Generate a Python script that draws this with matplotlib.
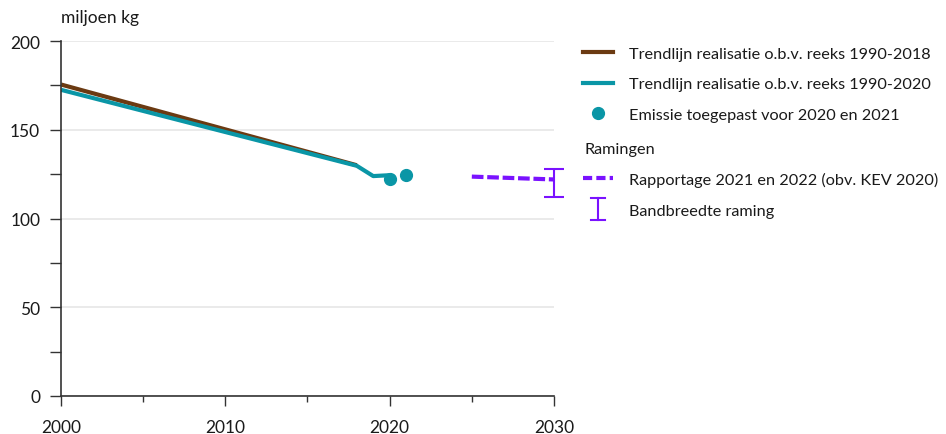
import numpy as np
import matplotlib.pyplot as plt
from matplotlib.lines import Line2D
from matplotlib.legend_handler import HandlerBase

# -------------------------------------------------
# Data
# -------------------------------------------------
jaren_trend_2018 = [2000, 2018]
trend_2018 = [175.5, 130.0]

jaren_trend_2020 = [2000, 2018, 2019, 2020]
trend_2020 = [172.5, 129.7, 123.9, 124.4]

jaren_emissie = [2020, 2021]
emissie = [122.3, 124.5]

jaren_raming = [2025, 2030]
raming = [123.6, 122.0]

jaar_band = [2030]
band_laag = [112.3]
band_hoog = [127.9]

x_ticks = [2000, 2010, 2020, 2030]
y_ticks = [0, 50, 100, 150, 200]

BRUIN = "#6b3a12"
TEAL = "#0a96a6"
PAARS = "#7a12ff"
TEKST = "#1a1a1a"
STREEP = (0, (2.8, 0.9))


class HandlerBand(HandlerBase):
    """Legenda-symbool: verticale lijn met twee dwarsstreepjes."""

    def create_artists(self, legend, orig_handle, xdescent, ydescent,
                       width, height, fontsize, trans):
        x = -xdescent + width / 2
        ym = -ydescent + height / 2
        half, cap = 8.0, 5.0
        y0, y1 = ym - half, ym + half
        stukken = [([x, x], [y0, y1]),
                   ([x - cap, x + cap], [y0, y0]),
                   ([x - cap, x + cap], [y1, y1])]
        return [Line2D(xs, ys, color=PAARS, lw=1.5, transform=trans)
                for xs, ys in stukken]


plt.rcParams["font.family"] = ["Lato", "DejaVu Sans"]

fig = plt.figure(figsize=(9.46, 4.35), dpi=100)
ax = fig.add_axes([0.0645, 0.0874, 0.5211, 0.816])

ax.plot(jaren_trend_2018, trend_2018, color=BRUIN, lw=3.0, solid_capstyle="butt")
ax.plot(jaren_trend_2020, trend_2020, color=TEAL, lw=3.0, solid_capstyle="butt")
ax.plot(jaren_emissie, emissie, "o", color=TEAL, ms=8.5, ls="none")
ax.plot(jaren_raming, raming, color=PAARS, lw=3.0, ls=STREEP)

# bandbreedte: verticale lijn met dwarsstreepjes
ax.vlines(jaar_band, band_laag, band_hoog, color=PAARS, lw=1.5, clip_on=False)
ax.plot(jaar_band * 2, band_laag + band_hoog, ls="none", marker="_",
        ms=14, mew=1.5, color=PAARS, clip_on=False)
band_proxy = Line2D([], [], color=PAARS)

ax.set_xlim(2000, 2030)
ax.set_ylim(0, 200)
ax.set_xticks(x_ticks)
ax.set_xticks([2005, 2015, 2025], minor=True)
ax.set_yticks(y_ticks)
ax.set_yticks([25, 75, 125, 175], minor=True)
ax.yaxis.grid(True, color="#e6e6e6", lw=1.2)
ax.set_axisbelow(True)

for s in ["top", "right"]:
    ax.spines[s].set_visible(False)
for s in ["left", "bottom"]:
    ax.spines[s].set_color("#333333")
    ax.spines[s].set_linewidth(1.2)

ax.tick_params(axis="both", which="major", width=1, color="#333333",
               labelsize=12.5, labelcolor=TEKST)
ax.tick_params(axis="both", which="minor", width=1, color="#333333")
ax.tick_params(axis="x", which="major", length=7.5, pad=9)
ax.tick_params(axis="x", which="minor", length=4)
ax.tick_params(axis="y", which="both", length=8, pad=7)

fig.text(0.0645, 0.94, "miljoen kg", fontsize=12.5, color=TEKST, ha="left", va="bottom")

# -------------------------------------------------
# Legenda
# -------------------------------------------------
opmaak = dict(loc="upper left", frameon=False, fontsize=11.7, handlelength=1.85,
              handletextpad=1.0, labelspacing=1.0, borderaxespad=0, borderpad=0,
              labelcolor=TEKST)

h1 = [
    Line2D([], [], color=BRUIN, lw=3.0),
    Line2D([], [], color=TEAL, lw=3.0),
    Line2D([], [], color=TEAL, marker="o", ms=8.5, ls="none"),
]
l1 = [
    "Trendlijn realisatie o.b.v. reeks 1990-2018",
    "Trendlijn realisatie o.b.v. reeks 1990-2020",
    "Emissie toegepast voor 2020 en 2021",
]
fig.legend(h1, l1, bbox_to_anchor=(0.616, 0.8915), **opmaak)

fig.text(0.618, 0.655, "Ramingen", fontsize=11.7, color=TEKST, ha="left", va="center")

h2 = [
    Line2D([], [], color=PAARS, lw=3.0, ls=(0, (2.2, 1.0))),
    band_proxy,
]
l2 = [
    "Rapportage 2021 en 2022 (obv. KEV 2020)",
    "Bandbreedte raming",
]
fig.legend(h2, l2, bbox_to_anchor=(0.616, 0.6025),
           handler_map={band_proxy: HandlerBand()}, **opmaak)

fig.savefig("out.png", dpi=100)
